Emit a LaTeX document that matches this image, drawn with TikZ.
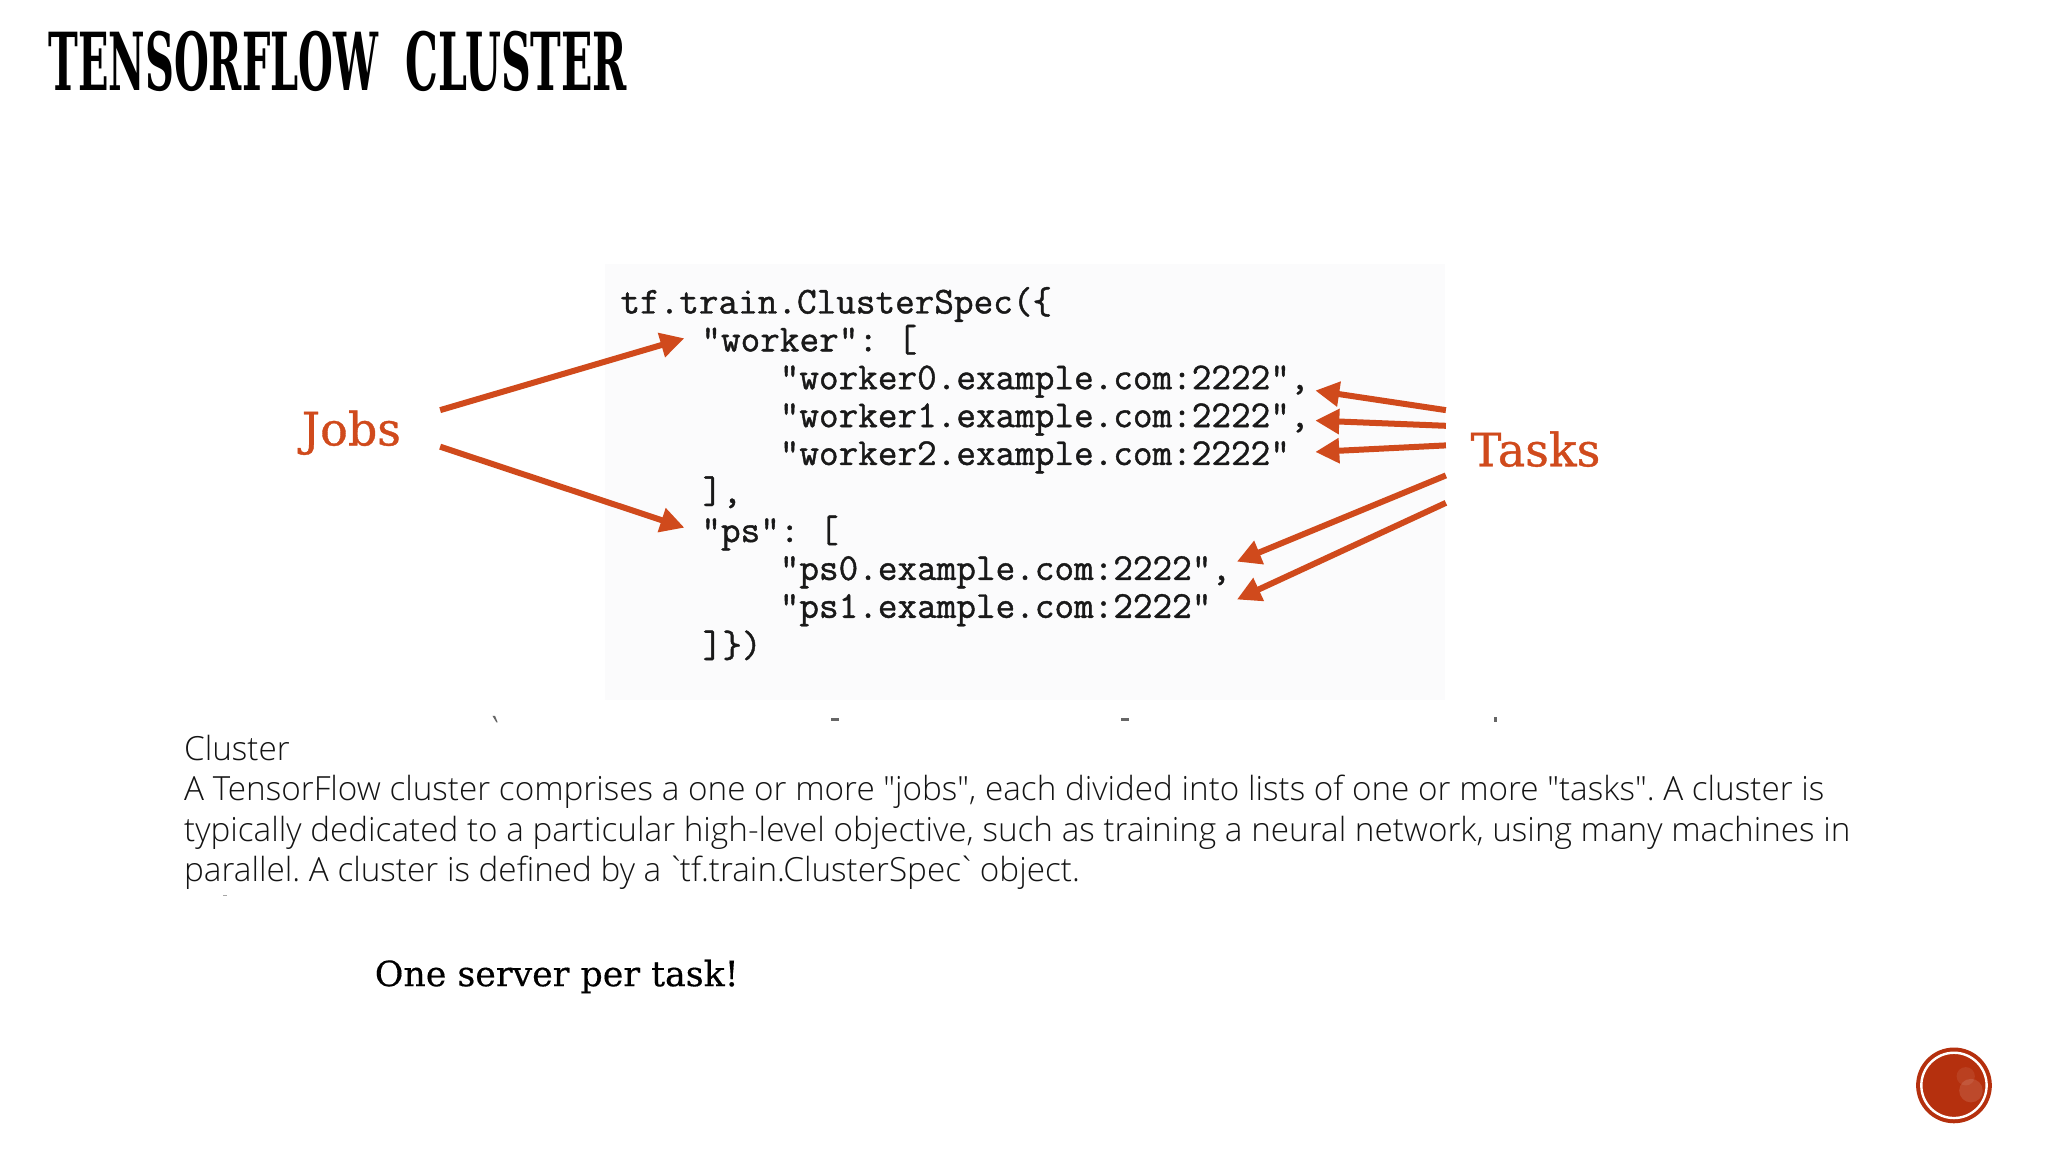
\documentclass[tikz,border=0pt]{standalone}
\usepackage{fontspec}
\usetikzlibrary{arrows.meta}
\setmainfont[Ligatures=TeXOff]{Open Sans Light}
\newfontfamily\slabfont[FakeBold=0.4]{DejaVu Serif}
\newfontfamily\calloutfont[FakeBold=0.8]{DejaVu Serif}
\newfontfamily\titlefont[FakeStretch=0.5]{DejaVu Serif Bold}
\newfontfamily\titlefontb[FakeStretch=0.515]{DejaVu Serif Bold}
\newfontfamily\codefont[FakeBold=1.1]{Latin Modern Mono}
\definecolor{accent}{HTML}{D04A1C}
\definecolor{badge}{HTML}{B5300E}
\definecolor{codebg}{HTML}{FBFBFC}
\tikzset{
  every node/.style={inner sep=0pt,outer sep=0pt},
  codeline/.style={anchor=base west,font=\codefont\fontsize{19.05pt}{20pt}\selectfont,text=black!90},
  bodyline/.style={anchor=base west,font=\fontsize{16.64pt}{20pt}\selectfont,text=black!92},
  callout/.style={anchor=base west,font=\calloutfont\fontsize{23pt}{25pt}\selectfont,text=accent},
  pointer/.style={draw=accent,line width=3pt,-{Triangle[length=12pt,width=12pt]}},
  speck/.style={fill=black!60},
}
\frenchspacing
\begin{document}
\begin{tikzpicture}[x=0.65306pt,y=-0.65306pt]
\useasboundingbox (0,0) rectangle (1568,882);
\fill[white] (0,0) rectangle (1568,882);
\fill[codebg] (463,202) rectangle (1106,536);
% title
\node[anchor=base west,font=\titlefont\fontsize{40pt}{44pt}\selectfont] (title) at (37,69) {TENSORFLOW\hspace{0.34em}{\titlefontb CLUSTER}};
% code
\node[codeline] (c0) at (475,240) {tf.train.ClusterSpec(\{};
\node[codeline] (c1) at (537,269) {"worker": [};
\node[codeline] (c2) at (597,298) {"worker0.example.com:2222",};
\node[codeline] (c3) at (597,327) {"worker1.example.com:2222",};
\node[codeline] (c4) at (597,356) {"worker2.example.com:2222"};
\node[codeline] (c5) at (538,385) {],};
\node[codeline] (c6) at (537,415) {"ps": [};
\node[codeline] (c7) at (597,444) {"ps0.example.com:2222",};
\node[codeline] (c8) at (597,473) {"ps1.example.com:2222"};
\node[codeline] (c9) at (538,503) {]\})};
% callouts
\node[callout] (jobs) at (231,341) {Jobs};
\node[callout] (tasks) at (1126,357) {Tasks};
% connector ends
\coordinate (j1) at (337,314);
\coordinate (j2) at (337,342);
\coordinate (jt1) at (524,259);
\coordinate (jt2) at (524,404);
\coordinate (t1) at (1107,314);
\coordinate (t2) at (1107,326);
\coordinate (t3) at (1107,341);
\coordinate (t4) at (1107,364);
\coordinate (t5) at (1107,385);
\coordinate (tt1) at (1007,299);
\coordinate (tt2) at (1007,322);
\coordinate (tt3) at (1007,346);
\coordinate (tt4) at (947,430);
\coordinate (tt5) at (947,459);
\draw[pointer] (j1) -- (jt1);
\draw[pointer] (j2) -- (jt2);
\draw[pointer] (t1) -- (tt1);
\draw[pointer] (t2) -- (tt2);
\draw[pointer] (t3) -- (tt3);
\draw[pointer] (t4) -- (tt4);
\draw[pointer] (t5) -- (tt5);
% clipped marks above the body text
\fill[speck] (377,548) -- (379,548) -- (381,553) -- (380,553) -- cycle;
\fill[speck] (636,550) rectangle (642,552);
\fill[speck] (858,550) rectangle (864,552);
\fill[speck] (1144,549) rectangle (1146,553);
\fill[black!35] (171,685) rectangle (174,686);
% body
\node[bodyline] (b0) at (141,582) {Cluster};
\node[bodyline] (b1) at (141,613) {A TensorFlow cluster comprises a one or more "jobs", each divided into lists of one or more "tasks". A cluster is};
\node[bodyline] (b2) at (141,644) {typically dedicated to a particular high-level objective, such as training a neural network, using many machines in};
\node[bodyline] (b3) at (141,675) {parallel. A cluster is defined by a \kern-.1em`\kern-.18em tf.train.ClusterSpec\kern-.12em`\kern-.15em{} object.};
\node[anchor=base west,font=\slabfont\fontsize{17.4pt}{20pt}\selectfont] (note) at (287,755) {One server per task!};
% badge
\fill[badge] (1496,831) circle (29);
\draw[white,line width=1.2pt] (1496,831) circle (25);
\fill[white,opacity=.12] (1509,835) circle (9);
\fill[white,opacity=.08] (1505,824) circle (7);
\end{tikzpicture}
\end{document}
